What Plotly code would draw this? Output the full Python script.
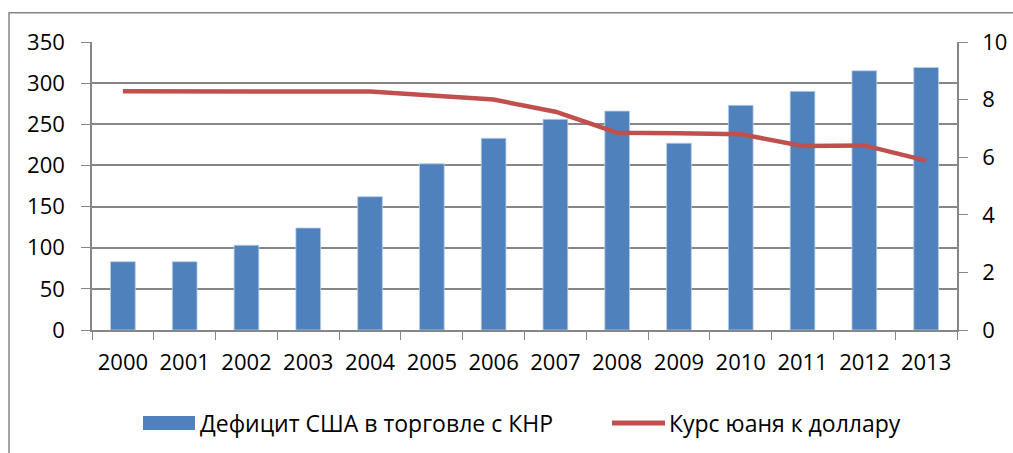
import plotly.graph_objects as go

years = ["2000", "2001", "2002", "2003", "2004", "2005", "2006",
         "2007", "2008", "2009", "2010", "2011", "2012", "2013"]
deficit = [83, 83, 103, 124, 162, 202, 233, 256, 266, 227, 273, 290, 315, 319]
yuan_rate = [8.29, 8.28, 8.28, 8.28, 8.28, 8.14, 8.00, 7.58, 6.85, 6.83, 6.80, 6.39, 6.41, 5.88]
legend_names = ["Дефицит США в торговле с КНР", "Курс юаня к доллару"]

W, H = 1013, 453
L, R, T, B = 92, 56, 42, 123
pw, ph = W - L - R, H - T - B

def px_x(x):
    return (x - L) / pw

def px_y(y):
    return (H - B - y) / ph

font = dict(family="Open Sans, Liberation Sans, sans-serif", size=22, color="#000")
leg_font = dict(font, size=23)
grey = "#868686"
blue, red = "#4F81BD", "#C0504D"

fig = go.Figure()
fig.add_trace(go.Bar(x=years, y=deficit, name=legend_names[0],
                     marker=dict(color=blue, line=dict(color="#B9CDE5", width=0.8)),
                     width=0.4))
fig.add_trace(go.Scatter(x=years, y=yuan_rate, name=legend_names[1], yaxis="y2",
                         mode="lines", line=dict(color=red, width=4.5)))

# hand-made legend below the plot
leg_y = px_y(423)
shapes = [
    dict(type="rect", xref="paper", yref="paper",
         x0=px_x(9), x1=1.2, y0=-0.6, y1=px_y(12.7),
         line=dict(color=grey, width=1.5), layer="below"),
    dict(type="rect", xref="paper", yref="paper",
         x0=px_x(143), x1=px_x(195), y0=px_y(430), y1=px_y(416),
         fillcolor=blue, line=dict(width=0)),
    dict(type="line", xref="paper", yref="paper",
         x0=px_x(612), x1=px_x(665), y0=leg_y, y1=leg_y,
         line=dict(color=red, width=5)),
]
annotations = [
    dict(text=legend_names[0], xref="paper", yref="paper", x=px_x(198), y=leg_y,
         xanchor="left", yanchor="middle", showarrow=False, font=leg_font),
    dict(text=legend_names[1], xref="paper", yref="paper", x=px_x(667), y=leg_y,
         xanchor="left", yanchor="middle", showarrow=False, font=leg_font),
]

fig.update_layout(
    width=W, height=H,
    margin=dict(l=L, r=R, t=T, b=B, autoexpand=False),
    paper_bgcolor="white", plot_bgcolor="white",
    font=font,
    showlegend=False,
    xaxis=dict(type="category", tickson="boundaries", ticks="outside", ticklen=8,
               tickcolor=grey, showline=True, linecolor=grey, linewidth=1.5,
               showgrid=False, tickfont=font, ticklabelstandoff=12),
    yaxis=dict(range=[0, 350], dtick=50, ticks="outside", ticklen=9, tickcolor=grey,
               showline=True, linecolor=grey, linewidth=1.5, showgrid=True,
               gridcolor=grey, gridwidth=1.5, zeroline=False, tickfont=font,
               ticklabelstandoff=12),
    yaxis2=dict(range=[0, 10], dtick=2, overlaying="y", side="right", ticks="outside",
                ticklen=9, tickcolor=grey, showline=True, linecolor=grey, linewidth=1.5,
                showgrid=False, zeroline=False, tickfont=font, ticklabelstandoff=10),
    shapes=shapes,
    annotations=annotations,
)

fig.write_html("out.html", config={"displayModeBar": False},
               post_script="document.body.style.margin='0';")
